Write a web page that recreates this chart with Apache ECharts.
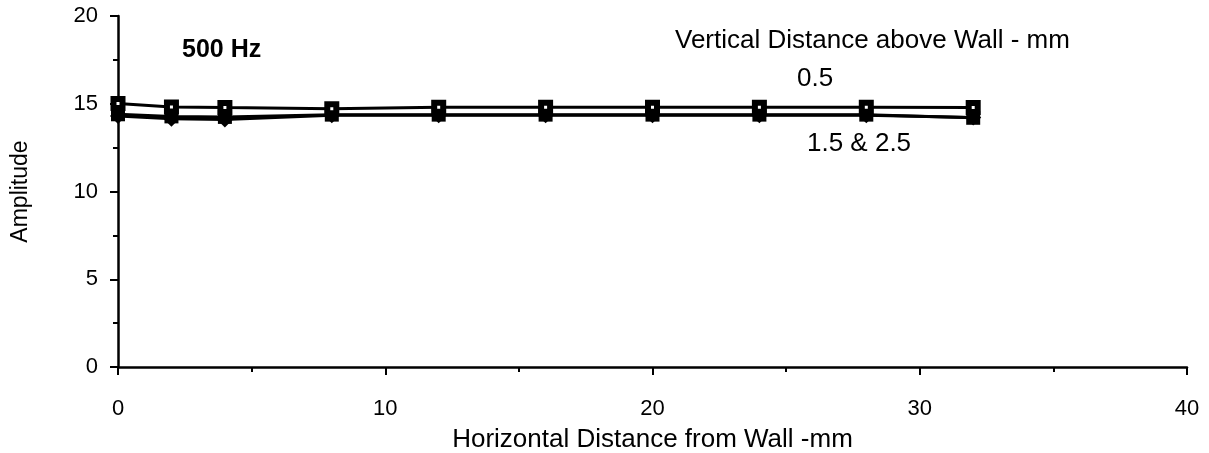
<!DOCTYPE html>
<html>
<head>
<meta charset="utf-8">
<script src="https://cdn.jsdelivr.net/npm/echarts@6/dist/echarts.min.js"></script>
<style>
  html, body { margin: 0; padding: 0; background: #fff; }
  #chart { width: 1209px; height: 453px; }
</style>
</head>
<body>
<div id="chart"></div>
<script>
// Horizontal distance from the wall (mm) at each measuring station
const distances = [0, 2, 4, 8, 12, 16, 20, 24, 28, 32];
// Amplitude at each vertical distance above the wall
const amp05 = [15.02, 14.82, 14.78, 14.72, 14.8, 14.8, 14.8, 14.8, 14.8, 14.78];
const amp15 = [14.3, 14.15, 14.1, 14.35, 14.35, 14.35, 14.35, 14.35, 14.35, 14.22];
const amp25 = [14.4, 14.28, 14.25, 14.38, 14.38, 14.38, 14.38, 14.38, 14.38, 14.2];
// Axis ticks
const xTicks = [0, 10, 20, 30, 40];
const yTicks = [0, 5, 10, 15, 20];

const font = 'Liberation Sans, Arial, sans-serif';
const pairs = arr => distances.map((d, i) => [d, arr[i]]);

const chart = echarts.init(document.getElementById('chart'), null, { renderer: 'canvas' });

const axisCommon = {
  axisLine: { show: true, onZero: false, lineStyle: { color: '#000', width: 2.5 } },
  axisTick: { show: true, inside: false, length: 8, lineStyle: { color: '#000', width: 2 } },
  minorTick: { show: true, splitNumber: 2, length: 5, lineStyle: { color: '#000', width: 2 } },
  splitLine: { show: false },
  axisLabel: { color: '#000', fontFamily: font, fontSize: 22 }
};

chart.setOption({
  backgroundColor: '#fff',
  animation: false,
  grid: { left: 118, right: 22, top: 16, bottom: 86, containLabel: false, outerBoundsMode: 'none' },
  xAxis: Object.assign({}, axisCommon, {
    type: 'value',
    min: xTicks[0],
    max: xTicks[xTicks.length - 1],
    interval: 10,
    axisLabel: Object.assign({}, axisCommon.axisLabel, { margin: 31 }),
    name: 'Horizontal Distance from Wall -mm',
    nameLocation: 'middle',
    nameGap: 60,
    nameTextStyle: { color: '#000', fontFamily: font, fontSize: 26 }
  }),
  yAxis: Object.assign({}, axisCommon, {
    type: 'value',
    min: yTicks[0],
    max: yTicks[yTicks.length - 1],
    interval: 5,
    axisLabel: Object.assign({}, axisCommon.axisLabel, { margin: 20 }),
    name: 'Amplitude',
    nameLocation: 'middle',
    nameGap: 86,
    nameTextStyle: { color: '#000', fontFamily: font, fontSize: 23 }
  }),
  series: [
    {
      name: '2.5',
      type: 'line',
      data: pairs(amp25),
      symbol: 'rect',
      symbolSize: 14,
      lineStyle: { color: '#000', width: 3 },
      itemStyle: { color: '#000' },
      z: 2
    },
    {
      name: '1.5',
      type: 'line',
      data: pairs(amp15),
      symbol: 'diamond',
      symbolSize: 16,
      lineStyle: { color: '#000', width: 3 },
      itemStyle: { color: '#000' },
      z: 3
    },
    {
      name: '0.5',
      type: 'line',
      data: pairs(amp05),
      symbol: 'rect',
      symbolSize: 9,
      lineStyle: { color: '#000', width: 3 },
      itemStyle: { color: '#fff', borderColor: '#000', borderWidth: 6 },
      z: 4
    }
  ],
  graphic: [
    { type: 'text', left: 182, top: 38, style: { text: '500 Hz', font: 'bold 25px ' + font, fill: '#000' } },
    { type: 'text', left: 675, top: 28, style: { text: 'Vertical Distance above Wall - mm', font: '26px ' + font, fill: '#000' } },
    { type: 'text', left: 797, top: 66, style: { text: '0.5', font: '26px ' + font, fill: '#000' } },
    { type: 'text', left: 807, top: 131, style: { text: '1.5 & 2.5', font: '26px ' + font, fill: '#000' } }
  ]
});
</script>
</body>
</html>
